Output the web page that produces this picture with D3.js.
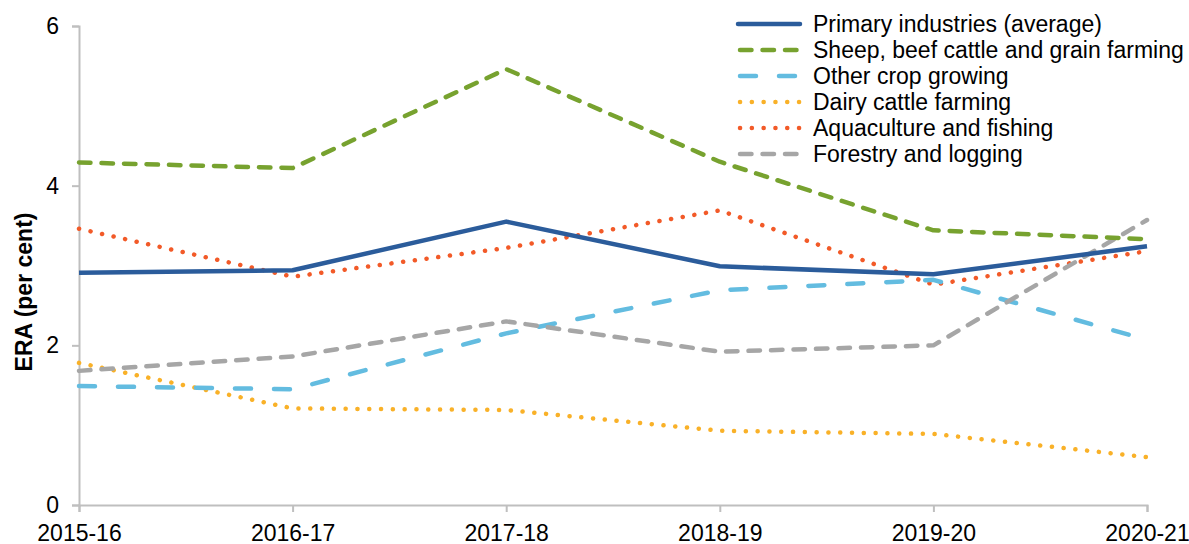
<!DOCTYPE html>
<html>
<head>
<meta charset="utf-8">
<script src="https://cdn.jsdelivr.net/npm/d3@7"></script>
<style>
  html, body { margin: 0; padding: 0; background: #fff; }
  svg { display: block; font-family: "Liberation Sans", Arial, sans-serif; }
</style>
</head>
<body>
<svg id="chart" width="1189" height="544"></svg>
<script>
const years = ["2015-16", "2016-17", "2017-18", "2018-19", "2019-20", "2020-21"];
const yTicks = [0, 2, 4, 6];

const primary   = [2.91, 2.94, 3.55, 2.99, 2.89, 3.24];
const sheep     = [4.29, 4.22, 5.46, 4.30, 3.44, 3.33];
const otherCrop = [1.49, 1.45, 2.15, 2.69, 2.82, 2.07];
const dairy     = [1.78, 1.21, 1.19, 0.93, 0.89, 0.60];
const aqua      = [3.46, 2.86, 3.22, 3.69, 2.76, 3.18];
const forestry  = [1.68, 1.86, 2.30, 1.92, 2.00, 3.57];

const seriesNames = [
  "Primary industries (average)",
  "Sheep, beef cattle and grain farming",
  "Other crop growing",
  "Dairy cattle farming",
  "Aquaculture and fishing",
  "Forestry and logging"
];

const series = [
  { name: seriesNames[0], values: primary,   color: "#2b5c9b", dash: null },
  { name: seriesNames[1], values: sheep,     color: "#77a22f", dash: "11.5,11" },
  { name: seriesNames[2], values: otherCrop, color: "#63bce0", dash: "16,23" },
  { name: seriesNames[3], values: dairy,     color: "#f9b128", dash: "0.1,11.7" },
  { name: seriesNames[4], values: aqua,      color: "#f25a28", dash: "0.1,11.7" },
  { name: seriesNames[5], values: forestry,  color: "#a6a6a6", dash: "11.5,11" }
];
// draw order (back to front)
const drawOrder = [4, 3, 2, 5, 1, 0];

const svg = d3.select("#chart");
const x = d3.scalePoint().domain(years).range([79, 1147]);
const y = d3.scaleLinear().domain([0, 6]).range([505, 26]);

const axisColor = "#bfbfbf";
const fontSize = 23;

// y axis
const yAxis = svg.append("g").attr("transform", "translate(79,0)")
  .call(d3.axisLeft(y).tickValues(yTicks).tickSize(7).tickPadding(13).tickFormat(d3.format("d")));
yAxis.select(".domain").attr("stroke", axisColor).attr("stroke-width", 2);
yAxis.selectAll(".tick line").attr("stroke", axisColor).attr("stroke-width", 2);
yAxis.selectAll(".tick text").attr("font-size", fontSize).attr("fill", "#000")
  .attr("font-family", "Liberation Sans, Arial, sans-serif");

// x axis
const xAxis = svg.append("g").attr("transform", "translate(0,505)")
  .call(d3.axisBottom(x).tickSize(7).tickSizeOuter(7).tickPadding(13));
xAxis.select(".domain").attr("stroke", axisColor).attr("stroke-width", 2);
xAxis.selectAll(".tick line").attr("stroke", axisColor).attr("stroke-width", 2);
xAxis.selectAll(".tick text").attr("font-size", fontSize).attr("fill", "#000")
  .attr("font-family", "Liberation Sans, Arial, sans-serif");

// y title
svg.append("text")
  .attr("transform", "translate(32,292) rotate(-90)")
  .attr("text-anchor", "middle")
  .attr("font-size", fontSize).attr("font-weight", "bold").attr("fill", "#000")
  .text("ERA (per cent)");

const line = d3.line().x((d, i) => x(years[i])).y(d => y(d));

drawOrder.forEach(k => {
  const s = series[k];
  svg.append("path")
    .datum(s.values)
    .attr("d", line)
    .attr("fill", "none")
    .attr("stroke", s.color)
    .attr("stroke-width", 4.5)
    .attr("stroke-linecap", s.dash ? "round" : "butt")
    .attr("stroke-linejoin", "round")
    .attr("stroke-dasharray", s.dash);
});

// legend
const lg = svg.append("g");
series.forEach((s, i) => {
  const cy = 24 + i * 26;
  lg.append("line")
    .attr("x1", s.dash ? 740 : 738).attr("x2", 800)
    .attr("y1", cy).attr("y2", cy)
    .attr("stroke", s.color).attr("stroke-width", 4.5)
    .attr("stroke-linecap", "round")
    .attr("stroke-dasharray", s.dash);
  lg.append("text")
    .attr("x", 813).attr("y", cy + 8)
    .attr("font-size", fontSize).attr("fill", "#000")
    .text(s.name);
});
</script>
</body>
</html>
